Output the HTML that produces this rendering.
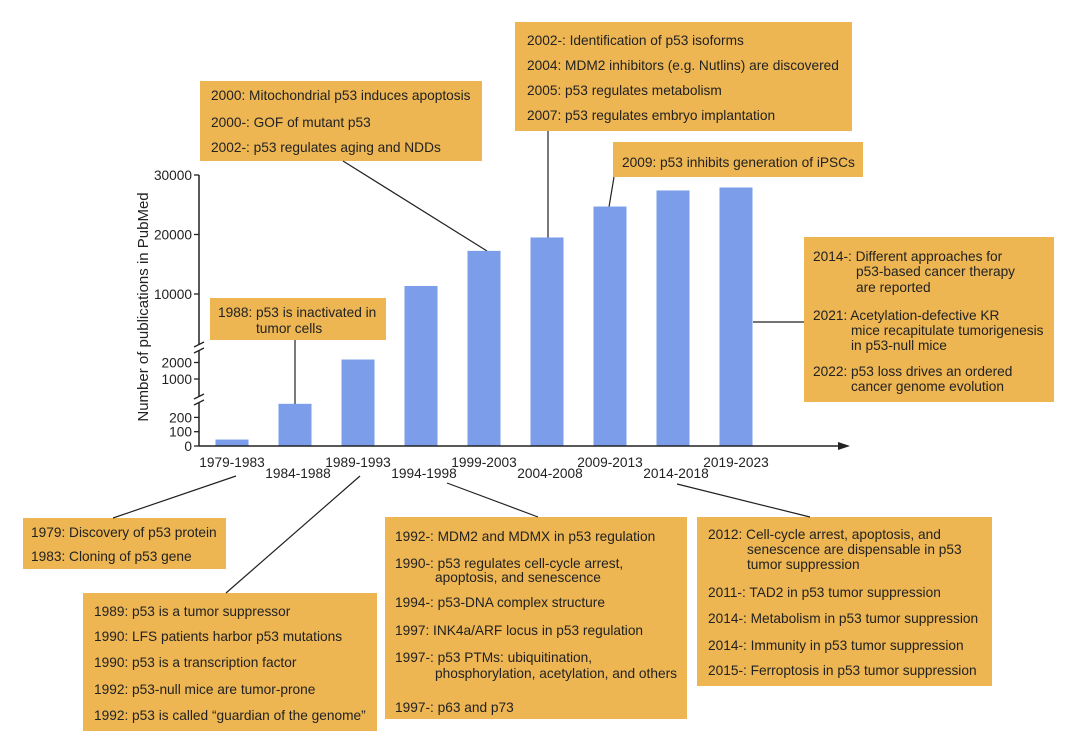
<!DOCTYPE html>
<html><head><meta charset="utf-8"><style>
html,body{margin:0;padding:0;background:#fff;width:1080px;height:753px;overflow:hidden}
svg{font-family:"Liberation Sans",sans-serif}
.box{fill:#EDB653}
.bt{font-size:13.7px;fill:#222}
</style></head><body>
<svg id="chart" width="1080" height="753" viewBox="0 0 1080 753">
<g id="boxes"></g>
<g id="plot"></g>
</svg>
<script>
const categories=["1979-1983","1984-1988","1989-1993","1994-1998","1999-2003","2004-2008","2009-2013","2014-2018","2019-2023"];
const publications=[45,295,2180,11350,17250,19500,24700,27400,27900];
const lowTicks=[0,100,200];
const midTicks=[1000,2000];
const highTicks=[10000,20000,30000];
const NS="http://www.w3.org/2000/svg";
const plot=document.getElementById('plot');
const boxesG=document.getElementById('boxes');
function mk(tag,attrs,parent){const e=document.createElementNS(NS,tag);for(const k in attrs)e.setAttribute(k,attrs[k]);parent.appendChild(e);return e;}
function yScale(v){
  if(v<=600) return 446-v*0.143;
  if(v<=5000) return 379-(v-1000)*0.0165;
  return 294-(v-10000)*0.00595;
}
function xCenter(i){return 232+63*i;}
const bw=33;
publications.forEach((v,i)=>{
  const y=yScale(v);
  const r=mk('rect',{x:xCenter(i)-bw/2,y:y,width:bw,height:446-y,fill:'#7B9DEA'},plot);
  
  
});
const ya=mk('line',{x1:199,y1:175,x2:199,y2:446,stroke:'#222','stroke-width':1.5},plot);


const xa=mk('line',{x1:199,y1:446,x2:842,y2:446,stroke:'#222','stroke-width':1.5},plot);


const arr=mk('polygon',{points:'850,446 838,442 838,450',fill:'#222'},plot);


[348,400].forEach(y=>{
  mk('rect',{x:195,y:y-3,width:9,height:6,fill:'#fff'},plot);
  mk('line',{x1:194,y1:y-1,x2:204,y2:y-6,stroke:'#222','stroke-width':1.3},plot);
  mk('line',{x1:194,y1:y+5,x2:204,y2:y,stroke:'#222','stroke-width':1.3},plot);
});
[...lowTicks,...midTicks,...highTicks].forEach(t=>{
  const y=yScale(t);
  mk('line',{x1:194,y1:y,x2:199,y2:y,stroke:'#222','stroke-width':1.3},plot);
  const tx=mk('text',{x:192,y:y+5,'text-anchor':'end','font-size':13.7,fill:'#222'},plot);
  tx.textContent=t;
  
  
});
const yt=mk('text',{x:0,y:0,transform:'translate(148,307) rotate(-90)','text-anchor':'middle','font-size':15,fill:'#222'},plot);
yt.textContent='Number of publications in PubMed';


categories.forEach((c,i)=>{
  const t=mk('text',{x:xCenter(i)+(i%2?3:0),y:i%2?478:467,'text-anchor':'middle','font-size':13.7,fill:'#222'},plot);
  t.textContent=c;
  
  
});
const boxes=[
 {n:'box-2000',x:200,y:81,w:282,h:80,lines:[[211,100,'2000: Mitochondrial p53 induces apoptosis'],[211,127,'2000-: GOF of mutant p53'],[211,152,'2002-: p53 regulates aging and NDDs']]},
 {n:'box-2002',x:515,y:22,w:337,h:109,lines:[[527,45,'2002-: Identification of p53 isoforms'],[527,70,'2004: MDM2 inhibitors (e.g. Nutlins) are discovered'],[527,95,'2005: p53 regulates metabolism'],[527,120,'2007: p53 regulates embryo implantation']]},
 {n:'box-2009',x:613,y:142,w:250,h:35,lines:[[622,167,'2009: p53 inhibits generation of iPSCs']]},
 {n:'box-2014',x:804,y:237,w:250,h:165,lines:[[813,261,'2014-: Different approaches for'],[856,276,'p53-based cancer therapy'],[856,292,'are reported'],[813,320,'2021: Acetylation-defective KR'],[851,335,'mice recapitulate tumorigenesis'],[851,350,'in p53-null mice'],[813,376,'2022: p53 loss drives an ordered'],[851,391,'cancer genome evolution']]},
 {n:'box-1988',x:210,y:298,w:176,h:42,lines:[[218,317,'1988: p53 is inactivated in'],[256,333,'tumor cells']]},
 {n:'box-1979',x:23,y:518,w:203,h:51,lines:[[31,537,'1979: Discovery of p53 protein'],[31,561,'1983: Cloning of p53 gene']]},
 {n:'box-1989',x:83,y:593,w:294,h:138,lines:[[94,616,'1989: p53 is a tumor suppressor'],[94,641,'1990: LFS patients harbor p53 mutations'],[94,667,'1990: p53 is a transcription factor'],[94,694,'1992: p53-null mice are tumor-prone'],[94,720,'1992: p53 is called “guardian of the genome”']]},
 {n:'box-1992',x:385,y:517,w:302,h:202,lines:[[395,541,'1992-: MDM2 and MDMX in p53 regulation'],[395,568,'1990-: p53 regulates cell-cycle arrest,'],[435,582,'apoptosis, and senescence'],[395,607,'1994-: p53-DNA complex structure'],[395,635,'1997: INK4a/ARF locus in p53 regulation'],[395,662,'1997-: p53 PTMs: ubiquitination,'],[435,678,'phosphorylation, acetylation, and others'],[395,712,'1997-: p63 and p73']]},
 {n:'box-2012',x:697,y:517,w:295,h:169,lines:[[708,539,'2012: Cell-cycle arrest, apoptosis, and'],[747,554,'senescence are dispensable in p53'],[747,569,'tumor suppression'],[708,597,'2011-: TAD2 in p53 tumor suppression'],[708,623,'2014-: Metabolism in p53 tumor suppression'],[708,650,'2014-: Immunity in p53 tumor suppression'],[708,675,'2015-: Ferroptosis in p53 tumor suppression']]}
];
boxes.forEach(b=>{
  const g=mk('g',{},boxesG);
  
  
  mk('rect',{x:b.x,y:b.y,width:b.w,height:b.h,class:'box'},g);
  b.lines.forEach(l=>{const t=mk('text',{x:l[0],y:l[1],class:'bt'},g);t.textContent=l[2];});
});
const conns=[[343,161,487,251],[548,131,548,238],[614,177,609,207],[753,322,804,322],[295,340,295,404],[236,476,113,518],[360,476,226,593],[447,483,538,517],[677,484,810,517]];
conns.forEach(c=>{
  const l=mk('line',{x1:c[0],y1:c[1],x2:c[2],y2:c[3],stroke:'#222','stroke-width':1.2},boxesG);
  
  
});
</script>
</body></html>
